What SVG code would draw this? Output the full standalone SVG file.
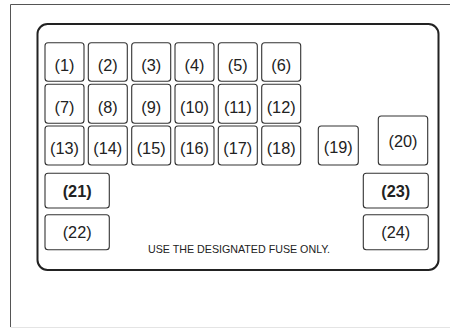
<svg xmlns="http://www.w3.org/2000/svg" width="450" height="328" viewBox="0 0 450 328">
<style>
.frame{fill:none;stroke:#555;stroke-width:1}
.panel{fill:#fff;stroke:#222;stroke-width:2}
.fuse rect{fill:#fff;stroke:#333;stroke-width:1.1}
.fuse text{font-family:"Liberation Sans",Arial,sans-serif;font-size:16.3px;fill:#222;text-anchor:middle}
.fuse text.b{font-weight:bold}
.note{font-family:"Liberation Sans",Arial,sans-serif;font-size:10.5px;fill:#222}
</style>
<rect width="450" height="328" fill="#fff"/>
<path class="frame" d="M460 4.5 H10.5 V327"/>
<line x1="10.5" y1="327.5" x2="450" y2="327.5" stroke="#e4e4e4" stroke-width="1"/>
<rect class="panel" x="37.5" y="24" width="401" height="246" rx="10"/>
<g id="fuse1" class="fuse"><rect x="45" y="42.7" width="39" height="38.5" rx="3"/><text x="64.5" y="71">(1)</text></g>
<g id="fuse2" class="fuse"><rect x="88.3" y="42.7" width="39" height="38.5" rx="3"/><text x="107.8" y="71">(2)</text></g>
<g id="fuse3" class="fuse"><rect x="131.7" y="42.7" width="39" height="38.5" rx="3"/><text x="151.2" y="71">(3)</text></g>
<g id="fuse4" class="fuse"><rect x="175" y="42.7" width="39" height="38.5" rx="3"/><text x="194.5" y="71">(4)</text></g>
<g id="fuse5" class="fuse"><rect x="218.3" y="42.7" width="39" height="38.5" rx="3"/><text x="237.8" y="71">(5)</text></g>
<g id="fuse6" class="fuse"><rect x="261.7" y="42.7" width="39" height="38.5" rx="3"/><text x="281.2" y="71">(6)</text></g>
<g id="fuse7" class="fuse"><rect x="45" y="84.3" width="39" height="39" rx="3"/><text x="64.5" y="112.5">(7)</text></g>
<g id="fuse8" class="fuse"><rect x="88.3" y="84.3" width="39" height="39" rx="3"/><text x="107.8" y="112.5">(8)</text></g>
<g id="fuse9" class="fuse"><rect x="131.7" y="84.3" width="39" height="39" rx="3"/><text x="151.2" y="112.5">(9)</text></g>
<g id="fuse10" class="fuse"><rect x="175" y="84.3" width="39" height="39" rx="3"/><text x="194.5" y="112.5">(10)</text></g>
<g id="fuse11" class="fuse"><rect x="218.3" y="84.3" width="39" height="39" rx="3"/><text x="237.8" y="112.5">(11)</text></g>
<g id="fuse12" class="fuse"><rect x="261.7" y="84.3" width="39" height="39" rx="3"/><text x="281.2" y="112.5">(12)</text></g>
<g id="fuse13" class="fuse"><rect x="45" y="126" width="39" height="39" rx="3"/><text x="64.5" y="153.5">(13)</text></g>
<g id="fuse14" class="fuse"><rect x="88.3" y="126" width="39" height="39" rx="3"/><text x="107.8" y="153.5">(14)</text></g>
<g id="fuse15" class="fuse"><rect x="131.7" y="126" width="39" height="39" rx="3"/><text x="151.2" y="153.5">(15)</text></g>
<g id="fuse16" class="fuse"><rect x="175" y="126" width="39" height="39" rx="3"/><text x="194.5" y="153.5">(16)</text></g>
<g id="fuse17" class="fuse"><rect x="218.3" y="126" width="39" height="39" rx="3"/><text x="237.8" y="153.5">(17)</text></g>
<g id="fuse18" class="fuse"><rect x="261.7" y="126" width="39" height="39" rx="3"/><text x="281.2" y="153.5">(18)</text></g>
<g id="fuse19" class="fuse"><rect x="318.3" y="126" width="40" height="39" rx="3"/><text x="338.3" y="153">(19)</text></g>
<g id="fuse20" class="fuse"><rect x="378.3" y="116" width="49.4" height="49" rx="3"/><text x="403" y="146.5">(20)</text></g>
<g id="fuse21" class="fuse"><rect x="45" y="173.3" width="64.3" height="34.7" rx="3"/><text class="b" x="77.2" y="196.5">(21)</text></g>
<g id="fuse22" class="fuse"><rect x="45" y="214.7" width="64.3" height="35" rx="3"/><text x="77.2" y="237.8">(22)</text></g>
<g id="fuse23" class="fuse"><rect x="363.3" y="173.3" width="65" height="34.7" rx="3"/><text class="b" x="395.8" y="196.5">(23)</text></g>
<g id="fuse24" class="fuse"><rect x="363.3" y="214.7" width="65" height="35" rx="3"/><text x="395.8" y="237.8">(24)</text></g>
<g id="connectors"></g>
<text class="note" x="148" y="253" textLength="182" lengthAdjust="spacingAndGlyphs">USE THE DESIGNATED FUSE ONLY.</text>
</svg>
